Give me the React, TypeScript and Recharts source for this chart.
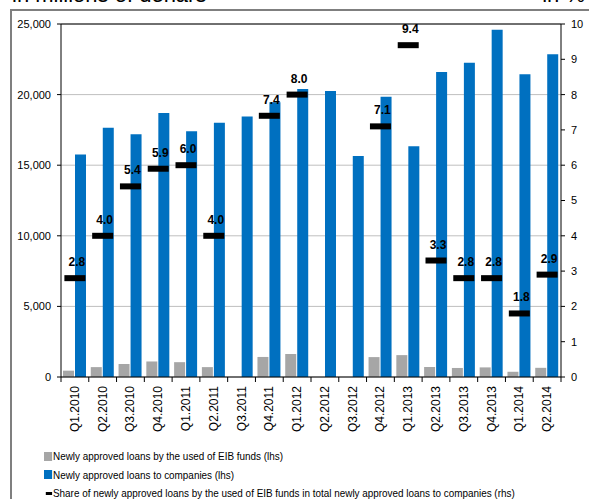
import React from 'react';
import { ComposedChart, Bar, Line, XAxis, YAxis, CartesianGrid, ReferenceLine, LabelList } from 'recharts';

const categories = [
  'Q1.2010', 'Q2.2010', 'Q3.2010', 'Q4.2010', 'Q1.2011', 'Q2.2011', 'Q3.2011', 'Q4.2011', 'Q1.2012',
  'Q2.2012', 'Q3.2012', 'Q4.2012', 'Q1.2013', 'Q2.2013', 'Q3.2013', 'Q4.2013', 'Q1.2014', 'Q2.2014',
];
const companyLoans = [15750, 17650, 17200, 18700, 17400, 18000, 18450, 19450, 20400, 20250, 15650, 19850, 16350, 21600, 22250, 24600, 21450, 22850];
const eibLoans = [450, 700, 920, 1100, 1050, 700, 0, 1420, 1630, 0, 0, 1410, 1550, 710, 640, 680, 370, 650];
const eibShare: (number | null)[] = [2.8, 4.0, 5.4, 5.9, 6.0, 4.0, null, 7.4, 8.0, null, null, 7.1, 9.4, 3.3, 2.8, 2.8, 1.8, 2.9];
const leftTicks = [0, 5000, 10000, 15000, 20000, 25000];
const rightTicks = [0, 1, 2, 3, 4, 5, 6, 7, 8, 9, 10];

const legendItems = [
  { label: 'Newly approved loans by the used of EIB funds (lhs)', color: '#A6A6A6', kind: 'square' },
  { label: 'Newly approved loans to companies (lhs)', color: '#0070C0', kind: 'square' },
  { label: 'Share of newly approved loans by the used of EIB funds in total newly approved loans to companies (rhs)', color: '#000000', kind: 'dash' },
];

const data = categories.map((c, i) => ({
  cat: c,
  eib: eibLoans[i],
  companies: companyLoans[i],
  share: eibShare[i],
}));

const W = 589;
const H = 499;
const TOP = 24;
const LEFT_W = 61;
const RIGHT_W = 28;
const XAXIS_H = 122;
const BAND = (W - LEFT_W - RIGHT_W) / categories.length;
const FONT = "'Liberation Sans', Arial, sans-serif";
const X_TICK_SIZE = 5;
const X_TICK_MARGIN = 4;

function XTick(props: any) {
  const { x, y, payload, index } = props;
  const axisY = y - X_TICK_SIZE - X_TICK_MARGIN;
  const left = x - BAND / 2;
  return (
    <g>
      <line x1={left} x2={left} y1={axisY} y2={axisY + X_TICK_SIZE} stroke="#000" />
      {index === categories.length - 1 && (
        <line x1={x + BAND / 2} x2={x + BAND / 2} y1={axisY} y2={axisY + X_TICK_SIZE} stroke="#000" />
      )}
      <text
        x={x}
        y={y}
        transform={`rotate(-90, ${x}, ${y})`}
        textAnchor="end"
        dominantBaseline="central"
        fontSize={12}
        fontFamily={FONT}
        fill="#000"
      >
        {payload.value}
      </text>
    </g>
  );
}

function ShareDash(props: any) {
  const { cx, cy, value, index } = props;
  if (value == null || cx == null || cy == null) return <g key={`d${index}`} />;
  return <rect key={`d${index}`} x={cx - 10.5} y={cy - 3} width={21} height={6} fill="#000" />;
}

function ShareLabel(props: any) {
  const { x, y, value } = props;
  if (value == null || x == null || y == null) return null;
  return (
    <text
      x={x + 2}
      y={y - 16}
      textAnchor="middle"
      dominantBaseline="central"
      fontSize={12}
      fontWeight="bold"
      fontFamily={FONT}
      fill="#000"
    >
      {Number(value).toFixed(1)}
    </text>
  );
}

export default function App() {
  return (
    <div style={{ position: 'absolute', left: 0, top: 0, width: W, height: H, background: '#fff', overflow: 'hidden', fontFamily: FONT }}>
      <div style={{ position: 'absolute', left: 10, top: 9, width: W, height: H, borderTop: '2px solid #7F7F7F', borderLeft: '2px solid #7F7F7F' }} />
      <div style={{ position: 'absolute', left: 12, top: -17, fontSize: 22, lineHeight: '24px', color: '#000', whiteSpace: 'nowrap' }}>in millions of denars</div>
      <div style={{ position: 'absolute', right: 4, top: -17, fontSize: 22, lineHeight: '24px', color: '#000', whiteSpace: 'nowrap' }}>in %</div>
      <div style={{ position: 'absolute', left: 0, top: 0 }}>
        <ComposedChart
          width={W}
          height={H}
          data={data}
          margin={{ top: TOP, right: 0, left: 0, bottom: 0 }}
          barGap={1}
        >
          <CartesianGrid yAxisId="left" vertical={false} stroke="#BFBFBF" />
          <XAxis
            dataKey="cat"
            interval={0}
            height={XAXIS_H}
            tickSize={X_TICK_SIZE}
            tickMargin={X_TICK_MARGIN}
            tickLine={false}
            axisLine={{ stroke: '#000' }}
            tick={<XTick />}
          />
          <YAxis
            yAxisId="left"
            domain={[0, 25000]}
            ticks={leftTicks}
            interval={0}
            width={LEFT_W}
            tickSize={4}
            tickMargin={6}
            axisLine={{ stroke: '#000' }}
            tickLine={{ stroke: '#000' }}
            tick={{ fontSize: 11, fill: '#000', fontFamily: FONT }}
            tickFormatter={(v: number) => v.toLocaleString('en-US')}
          />
          <YAxis
            yAxisId="right"
            orientation="right"
            domain={[0, 10]}
            ticks={rightTicks}
            interval={0}
            width={RIGHT_W}
            tickSize={4}
            tickMargin={6}
            axisLine={{ stroke: '#000' }}
            tickLine={{ stroke: '#000' }}
            tick={{ fontSize: 11, fill: '#000', fontFamily: FONT, textAnchor: 'start' }}
          />
          <ReferenceLine yAxisId="left" y={25000} stroke="#000" />
          <Bar yAxisId="left" dataKey="eib" fill="#A6A6A6" barSize={11} isAnimationActive={false} />
          <Bar yAxisId="left" dataKey="companies" fill="#0070C0" barSize={11} isAnimationActive={false} />
          <Line
            yAxisId="right"
            dataKey="share"
            stroke="none"
            strokeWidth={0}
            dot={(p: any) => <ShareDash {...p} key={`dot-${p.index}`} />}
            activeDot={false}
            isAnimationActive={false}
          >
            <LabelList dataKey="share" content={(p: any) => <ShareLabel {...p} />} />
          </Line>
        </ComposedChart>
      </div>
      {legendItems.map((item, i) => (
        <div
          key={item.label}
          style={{
            position: 'absolute',
            left: 44,
            top: 448 + i * 18.5,
            height: 16,
            display: 'flex',
            alignItems: 'center',
            fontSize: 11,
            color: '#000',
            whiteSpace: 'nowrap',
            transform: 'scaleX(0.9)',
            transformOrigin: 'left center',
          }}
        >
          {item.kind === 'square' ? (
            <span style={{ display: 'inline-block', width: 9, height: 9, background: item.color, marginRight: 1 }} />
          ) : (
            <span style={{ display: 'inline-block', width: 7, height: 3, background: item.color, marginLeft: 2, marginRight: 1 }} />
          )}
          <span>{item.label}</span>
        </div>
      ))}
    </div>
  );
}
